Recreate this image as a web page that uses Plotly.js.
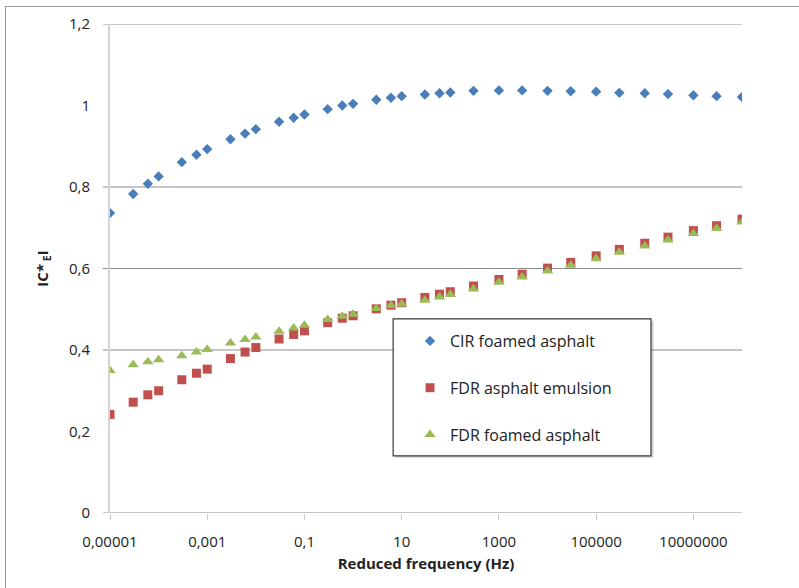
<!DOCTYPE html>
<html>
<head>
<meta charset="utf-8">
<script src="https://cdn.plot.ly/plotly-3.0.1.min.js"></script>
<style>
html,body{margin:0;padding:0;background:#fff;overflow:hidden;width:799px;height:588px;}
#chart{position:absolute;left:0;top:0;width:799px;height:588px;}
#frame{position:absolute;left:5px;top:6px;width:900px;height:700px;border:1px solid #9a9a9a;pointer-events:none;}
</style>
</head>
<body>
<div id="chart"></div>
<div id="frame"></div>
<script>
// Reduced frequency (Hz)
const freq = [1e-5,3e-5,6e-5,1e-4,3e-4,6e-4,1e-3,3e-3,6e-3,1e-2,3e-2,6e-2,0.1,0.3,0.6,1,3,6,10,
              30,60,100,300,1000,3000,1e4,3e4,1e5,3e5,1e6,3e6,1e7,3e7,1e8];
// |C*E|
const cirFoamed = [0.736,0.783,0.808,0.826,0.861,0.879,0.893,0.917,0.931,0.942,0.960,0.970,0.978,0.991,1.000,1.004,1.014,1.019,1.023,
                   1.027,1.030,1.032,1.036,1.037,1.037,1.036,1.035,1.034,1.031,1.030,1.028,1.025,1.023,1.021];
const fdrEmulsion = [0.242,0.272,0.290,0.300,0.327,0.343,0.353,0.379,0.395,0.406,0.427,0.438,0.447,0.467,0.478,0.484,0.501,0.510,0.516,
                     0.529,0.537,0.543,0.557,0.573,0.586,0.601,0.615,0.631,0.647,0.662,0.677,0.693,0.705,0.721];
const fdrFoamed = [0.350,0.364,0.371,0.376,0.386,0.395,0.401,0.417,0.426,0.432,0.446,0.454,0.461,0.475,0.483,0.488,0.502,0.509,0.513,
                   0.522,0.530,0.536,0.550,0.566,0.579,0.594,0.608,0.624,0.640,0.655,0.670,0.686,0.698,0.714];
const seriesNames = ['CIR foamed asphalt','FDR asphalt emulsion','FDR foamed asphalt'];
const xTickVals = [1e-5,1e-3,0.1,10,1000,1e5,1e7];
const xTickText = ['0,00001','0,001','0,1','10','1000','100000','10000000'];
const gridVals = [0,0.4,0.6,0.8,1.2];

const traces = [
  {x:freq, y:cirFoamed, name:seriesNames[0], type:'scatter', mode:'markers', legendgroup:'a',
   marker:{symbol:'diamond', size:8, color:'#4A7EBB'}},
  {x:freq, y:fdrEmulsion, name:seriesNames[1], type:'scatter', mode:'markers', legendgroup:'b',
   marker:{symbol:'square', size:9, color:'#C0504D'}},
  {x:freq, y:fdrFoamed, name:seriesNames[2], type:'scatter', mode:'markers', legendgroup:'c',
   marker:{symbol:'triangle-up', size:10, color:'#9BBB59'}}
];

const shapes = gridVals.map(v => ({type:'line', xref:'paper', yref:'y', x0:-0.011, x1:1, y0:v, y1:v,
  layer:'below', line:{color:'#8c8c8c', width:1}}));
// legend box with soft shadow
shapes.push({type:'rect', xref:'paper', yref:'paper', x0:0.452, x1:0.860, y0:0.113, y1:0.393,
  layer:'above', line:{width:0}, fillcolor:'rgba(0,0,0,0.18)'});
shapes.push({type:'rect', xref:'paper', yref:'paper', x0:0.448, x1:0.856, y0:0.117, y1:0.397,
  layer:'above', line:{color:'#3a3a3a', width:1.2}, fillcolor:'#ffffff'});

const layout = {
  width:799, height:588,
  margin:{l:110, r:57, t:24, b:75},
  paper_bgcolor:'#ffffff', plot_bgcolor:'#ffffff',
  separators:', ',
  font:{family:'Open Sans, sans-serif', size:15, color:'#222'},
  showlegend:true,
  legend:{x:0.4747, xanchor:'left', y:0.3865, yanchor:'top', bgcolor:'rgba(0,0,0,0)', borderwidth:0,
          font:{size:16, color:'#222'}, tracegroupgap:23},
  xaxis:{type:'log', range:[-5,8], tickmode:'array', tickvals:xTickVals, ticktext:xTickText,
         showgrid:false, zeroline:false, showline:false, ticks:'outside', ticklen:6, tickcolor:'#c8c8c8',
         ticklabelstandoff:9, automargin:false,
         title:{text:'<b>Reduced frequency (Hz)</b>', font:{size:15}, standoff:8}},
  yaxis:{range:[0,1.2], tick0:0, dtick:0.2, showgrid:false, zeroline:false, showline:true,
         linecolor:'#d4d4d4', linewidth:2, ticks:'', ticklabelstandoff:15, automargin:false,
         title:{text:'<b>IC*<sub> E</sub>I</b>', font:{size:15}, standoff:17}},
  shapes:shapes
};

Plotly.newPlot('chart', traces, layout, {staticPlot:true, displayModeBar:false});
</script>
</body>
</html>
